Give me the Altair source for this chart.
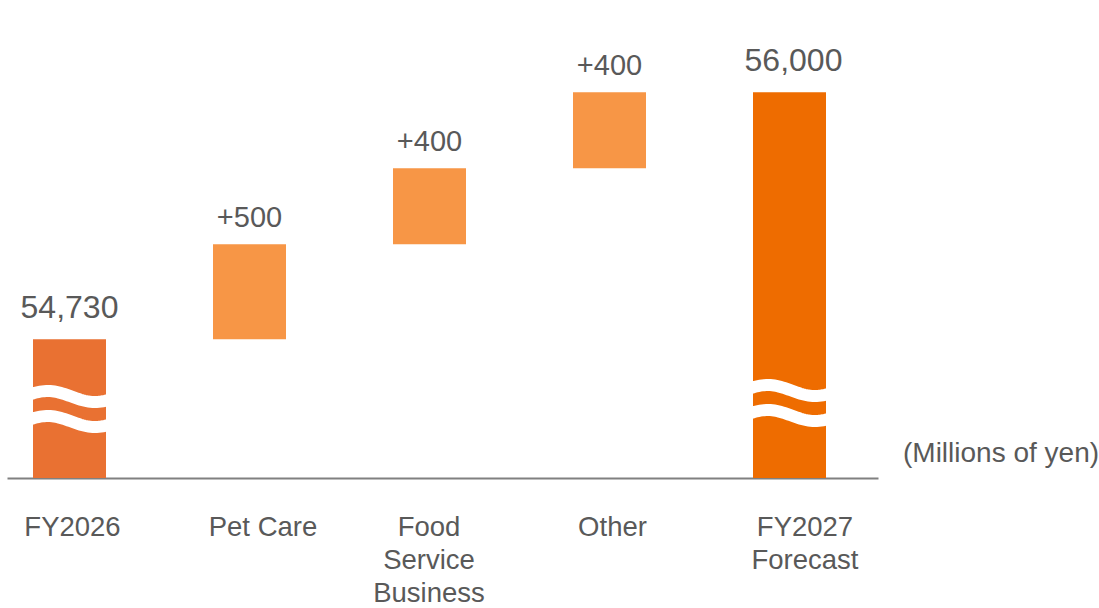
import json
import numpy as np
import pandas as pd
import altair as alt

# ---------------- data ----------------
categories = ["FY2026", "Pet Care", "Food Service Business", "Other", "FY2027 Forecast"]
label_lines = [["FY2026"], ["Pet Care"], ["Food", "Service", "Business"], ["Other"], ["FY2027", "Forecast"]]
kinds = ["start", "delta", "delta", "delta", "total"]
start_total = 54730
deltas = [500, 400, 400]
forecast_total = 56000
value_labels = ["54,730", "+500", "+400", "+400", "56,000"]
unit_label = "(Millions of yen)"

# ---------------- layout / style ----------------
PLOT_W, PLOT_H = 871, 478
STEP = 180.0           # px between category centres
FIRST_C = 62.5         # px of first centre inside plot
BAR_W = 73
PX_PER_UNIT = 0.19
Y_MIN = 54000          # value at the (broken) baseline
Y_MAX = Y_MIN + PLOT_H / PX_PER_UNIT
X_MIN = -FIRST_C / STEP
X_MAX = (PLOT_W - FIRST_C) / STEP

TEXT = "#595959"
FONT = "Liberation Sans"
colors = {"start": "#E97132", "delta": "#F79646", "total": "#EE6C00"}

# ---------------- waterfall table ----------------
rows = []
running = start_total
rows.append(dict(idx=0, cat=categories[0], lo=0, hi=start_total, kind=kinds[0], label=value_labels[0]))
for i, d in enumerate(deltas, start=1):
    rows.append(dict(idx=i, cat=categories[i], lo=running, hi=running + d, kind=kinds[i], label=value_labels[i]))
    running += d
rows.append(dict(idx=4, cat=categories[4], lo=0, hi=running, kind=kinds[4], label=value_labels[4]))
bars_df = pd.DataFrame(rows)

# ---------------- break symbols (decoration) ----------------
break_px = {0: [87, 62], 4: [93, 68]}   # peak heights of the wavy cuts above the baseline (px)
ts = np.linspace(-0.04, 1.04, 40)
wave_rows = []
for idx, hs in break_px.items():
    for b, h in enumerate(hs):
        for k, t in enumerate(ts):
            s = 5.5 * (1 - np.cos(2 * np.pi * (t - 0.2) / 1.3))
            wave_rows.append(dict(
                x=idx + (t - 0.5) * BAR_W / STEP,
                y=Y_MIN + (h - s) / PX_PER_UNIT,
                band=f"{idx}-{b}", order=k))
wave_df = pd.DataFrame(wave_rows)

xscale = alt.Scale(domain=[X_MIN, X_MAX], nice=False, zero=False, padding=0)
yscale = alt.Scale(domain=[Y_MIN, Y_MAX], nice=False, zero=False, padding=0)

label_expr = json.dumps(label_lines) + "[datum.value]"

label_offset = {
    "condition": [
        {"test": "datum.value == 1", "value": 13},
        {"test": "datum.value == 2", "value": -1},
        {"test": "datum.value == 4", "value": 15},
    ],
    "value": 2.5,
}

x_enc = alt.X("idx:Q", scale=xscale,
              axis=alt.Axis(values=[0, 1, 2, 3, 4], labelExpr=label_expr, ticks=False, grid=False,
                            domainColor="#808080", domainWidth=2, labelFontSize=27.5, labelFont=FONT,
                            labelColor=TEXT, labelPadding=35, labelLineHeight=33, title=None,
                            labelOverlap=False, labelFlush=False, labelOffset=label_offset))

base = alt.Chart(bars_df)

bars = base.mark_bar(size=BAR_W, clip=True).encode(
    x=x_enc,
    y=alt.Y("hi:Q", scale=yscale, axis=None),
    y2="lo:Q",
    color=alt.Color("kind:N", scale=alt.Scale(domain=list(colors), range=list(colors.values())), legend=None),
)

waves = alt.Chart(wave_df).mark_line(color="white", strokeWidth=12, strokeCap="butt", clip=True).encode(
    x=alt.X("x:Q", scale=xscale),
    y=alt.Y("y:Q", scale=yscale),
    detail="band:N",
    order="order:Q",
)

delta_labels = base.transform_filter(alt.datum.kind == "delta").mark_text(
    baseline="alphabetic", dy=-17, fontSize=29, font=FONT, color=TEXT
).encode(x=alt.X("idx:Q", scale=xscale), y=alt.Y("hi:Q", scale=yscale), text="label:N")

total_labels = base.transform_filter(alt.datum.kind != "delta").mark_text(
    baseline="alphabetic", dy=-21, fontSize=32, font=FONT, color=TEXT,
    dx=alt.expr("datum.idx == 4 ? 4 : 0"),
).encode(x=alt.X("idx:Q", scale=xscale), y=alt.Y("hi:Q", scale=yscale), text="label:N")

unit = alt.Chart(pd.DataFrame({"t": [unit_label]})).mark_text(
    align="left", baseline="alphabetic", fontSize=28, font=FONT, color=TEXT
).encode(x=alt.value(896), y=alt.value(462), text="t:N")

chart = alt.layer(bars, waves, delta_labels, total_labels, unit).properties(
    width=PLOT_W, height=PLOT_H,
    autosize=alt.AutoSizeParams(type="none"),
    padding={"left": 7, "top": 0, "right": 1099 - 7 - PLOT_W, "bottom": 608 - PLOT_H},
    background="white",
).configure_view(stroke=None)

chart.save("out.html", embed_options={"renderer": "svg", "actions": False})
